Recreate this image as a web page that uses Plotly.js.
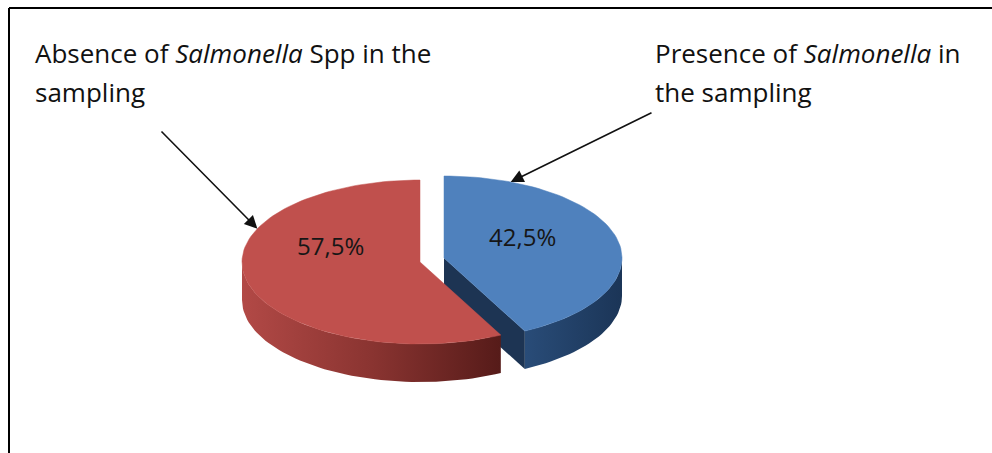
<!DOCTYPE html>
<html>
<head>
<meta charset="utf-8">
<script src="https://cdn.plot.ly/plotly-3.0.1.min.js"></script>
<style>html,body{margin:0;padding:0;background:#fff;}#chart{width:992px;height:453px;}</style>
</head>
<body>
<div id="chart"></div>
<script>
// ---- data ----
const categories = ['Presence of <i>Salmonella</i> in<br>the sampling', 'Absence of <i>Salmonella</i> Spp in the<br>sampling'];
const values = [42.5, 57.5];
const pctLabels = ['42,5%', '57,5%'];
const topColors = ['#4f81bd', '#c0504d'];

// ---- geometry / style (not data) ----
const RX = 178, RY = 82, DEPTH = 38;
const centers = [{cx: 444, cy: 258}, {cx: 420, cy: 262}];
const sideScales = [
  [[0, '#294c78'], [1, '#1b3557']],
  [[0, '#b24946'], [0.5, '#8a3431'], [1, '#561b19']]
];
const faceColors = ['#1d3453', '#5a1c1a'];
const pctOffsets = [{dx: -8, dy: -12}, {dx: -3, dy: -26}];
const labelBoxes = [
  {x: 653, y1: 53, y2: 92},
  {x: 33, y1: 53, y2: 92}
];
const arrowTails = [{ax: 653, ay: 112}, {ax: 160, ay: 130}];
const arrowTipAngles = [22, 294];
const FONT = 'Open Sans';

function pt(c, deg, dy) {
  const t = deg * Math.PI / 180;
  return [c.cx + RX * Math.sin(t), c.cy - RY * Math.cos(t) + (dy || 0)];
}
function arc(c, a0, a1, dy) {
  const n = Math.max(4, Math.ceil(Math.abs(a1 - a0) / 2));
  const out = [];
  for (let i = 0; i <= n; i++) out.push(pt(c, a0 + (a1 - a0) * i / n, dy));
  return out;
}

const total = values.reduce((a, b) => a + b, 0);
const traces = [];
const annotations = [];
let start = 0;
values.forEach((v, i) => {
  const a0 = start, a1 = start + 360 * v / total;
  start = a1;
  const c = centers[i];
  // outer side (front half 90..270)
  const s0 = Math.max(a0, 90), s1 = Math.min(a1, 270);
  if (s1 > s0) {
    const top = arc(c, s0, s1, 0), bot = arc(c, s1, s0, DEPTH);
    const poly = top.concat(bot);
    traces.push({
      type: 'scatter', mode: 'lines', x: poly.map(p => p[0]), y: poly.map(p => p[1]),
      fill: 'toself', fillgradient: {type: 'horizontal', colorscale: sideScales[i]},
      line: {width: 0, color: faceColors[i]}, hoverinfo: 'skip', showlegend: false
    });
  }
  // radial faces
  const faces = [];
  if (Math.sin(a1 * Math.PI / 180) > 1e-6) faces.push(a1);
  if (Math.sin(a0 * Math.PI / 180) < -1e-6) faces.push(a0);
  faces.forEach(a => {
    const p = pt(c, a, 0), pb = pt(c, a, DEPTH);
    const poly = [[c.cx, c.cy], p, pb, [c.cx, c.cy + DEPTH], [c.cx, c.cy]];
    traces.push({
      type: 'scatter', mode: 'lines', x: poly.map(q => q[0]), y: poly.map(q => q[1]),
      fill: 'toself', fillcolor: faceColors[i],
      line: {width: 0, color: faceColors[i]}, hoverinfo: 'skip', showlegend: false
    });
  });
  // top surface
  const topPoly = [[c.cx, c.cy]].concat(arc(c, a0, a1, 0)).concat([[c.cx, c.cy]]);
  traces.push({
    type: 'scatter', mode: 'lines', x: topPoly.map(q => q[0]), y: topPoly.map(q => q[1]),
    fill: 'toself', fillcolor: topColors[i],
    line: {width: 0.5, color: topColors[i]}, hoverinfo: 'skip', showlegend: false,
    name: categories[i]
  });
  // percentage label
  const mid = (a0 + a1) / 2, t = mid * Math.PI / 180;
  annotations.push({
    x: c.cx + 0.5 * RX * Math.sin(t) + pctOffsets[i].dx,
    y: c.cy - 0.5 * RY * Math.cos(t) + pctOffsets[i].dy,
    xref: 'x', yref: 'y', text: pctLabels[i], showarrow: false,
    font: {family: FONT, size: 24, color: '#161616'}
  });
  // category label lines
  const lines = categories[i].split('<br>');
  const lb = labelBoxes[i];
  lines.forEach((ln, k) => {
    annotations.push({
      x: lb.x, y: k === 0 ? lb.y1 : lb.y2, xref: 'x', yref: 'y', xanchor: 'left', yanchor: 'middle',
      text: ln, showarrow: false, font: {family: FONT, size: 26, color: '#111'}
    });
  });
  // arrow toward the slice rim
  const tip = pt(c, arrowTipAngles[i], 0);
  annotations.push({
    x: tip[0], y: tip[1], ax: arrowTails[i].ax, ay: arrowTails[i].ay,
    xref: 'x', yref: 'y', axref: 'x', ayref: 'y', text: '', showarrow: true,
    arrowhead: 2, arrowsize: 1.6, arrowwidth: 1.6, arrowcolor: '#111', standoff: 0
  });
});

const layout = {
  width: 992, height: 453,
  margin: {l: 0, r: 0, t: 0, b: 0},
  paper_bgcolor: '#ffffff', plot_bgcolor: '#ffffff',
  xaxis: {range: [0, 992], visible: false, fixedrange: true},
  yaxis: {range: [453, 0], visible: false, fixedrange: true},
  showlegend: false,
  annotations: annotations,
  shapes: [
    {type: 'line', xref: 'x', yref: 'y', x0: 9, y0: 8, x1: 992, y1: 8, line: {color: '#000', width: 2}},
    {type: 'line', xref: 'x', yref: 'y', x0: 9, y0: 8, x1: 9, y1: 453, line: {color: '#000', width: 2}}
  ]
};
Plotly.newPlot('chart', traces, layout, {staticPlot: true, displayModeBar: false});
</script>
</body>
</html>
